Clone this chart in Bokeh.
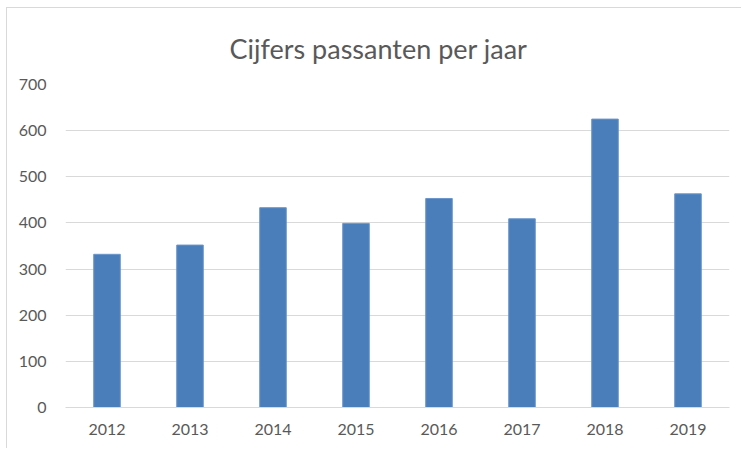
from bokeh.plotting import figure
from bokeh.models import FixedTicker, ColumnDataSource
from bokeh.embed import file_html
from bokeh.resources import INLINE

years = ["2012", "2013", "2014", "2015", "2016", "2017", "2018", "2019"]
passanten = [332, 352, 433, 399, 453, 409, 625, 463]
y_ticks = [0, 100, 200, 300, 400, 500, 600, 700]
chart_title = "Cijfers passanten per jaar"

source = ColumnDataSource(data=dict(years=years, passanten=passanten))

p = figure(
    x_range=years, y_range=(0, 700),
    width=735, height=441,
    output_backend="svg", toolbar_location=None,
    title=chart_title,
    min_border_left=58, min_border_right=13,
    min_border_top=76, min_border_bottom=42,
    background_fill_color="white", border_fill_color="white",
    outline_line_color=None,
    styles={"border-left": "1px solid #d9d9d9", "border-top": "1px solid #d9d9d9",
            "margin-left": "6px", "margin-top": "7px"},
)

p.vbar(x="years", top="passanten", width=0.32, source=source,
       fill_color="#4a7ebb", line_color="#6a96cc", line_width=1)

p.x_range.range_padding = 0

p.title.align = "left"
p.title.offset = 164
p.title.standoff = 40
p.title.text_font = "Lato"
p.title.text_font_size = "27px"
p.title.text_font_style = "normal"
p.title.text_color = "#595959"

p.yaxis.ticker = FixedTicker(ticks=y_ticks)
p.yaxis.axis_line_color = None
p.yaxis.major_tick_line_color = None
p.yaxis.minor_tick_line_color = None
p.yaxis.major_label_standoff = 13
p.yaxis.major_label_text_font = "Lato"
p.yaxis.major_label_text_font_size = "16px"
p.yaxis.major_label_text_color = "#595959"

p.xaxis.axis_line_color = "#d9d9d9"
p.xaxis.axis_line_width = 1
p.xaxis.major_tick_line_color = None
p.xaxis.minor_tick_line_color = None
p.xaxis.major_label_standoff = 10
p.xaxis.major_label_text_font = "Lato"
p.xaxis.major_label_text_font_size = "16px"
p.xaxis.major_label_text_color = "#595959"

p.xgrid.grid_line_color = None
p.ygrid.grid_line_color = "#d9d9d9"
p.ygrid.grid_line_width = 1

open("out.html", "w").write(file_html(p, INLINE))
